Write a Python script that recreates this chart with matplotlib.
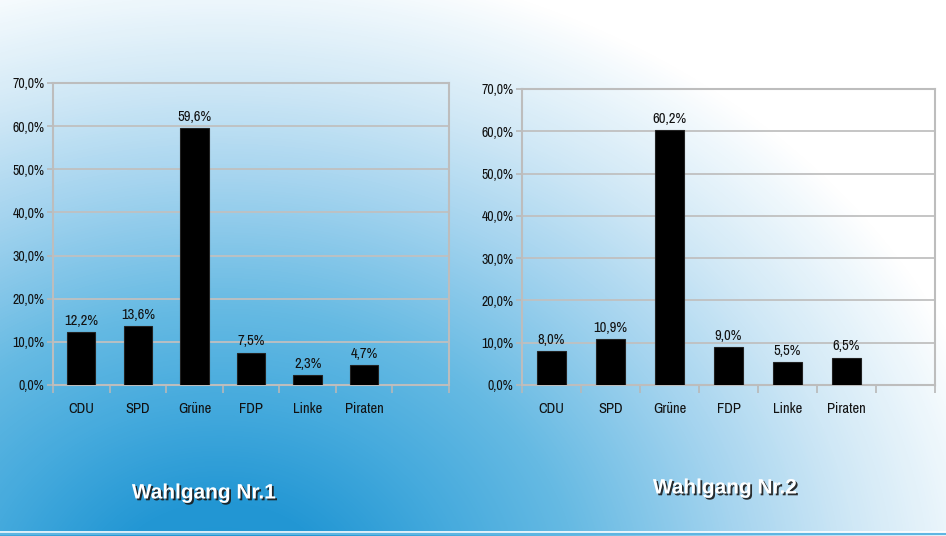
import numpy as np
import matplotlib
matplotlib.use('Agg')
import matplotlib.pyplot as plt
import matplotlib.patheffects as pe
from matplotlib import font_manager as fm
from matplotlib.colors import LinearSegmentedColormap

# Wahlergebnisse
parteien = ['CDU', 'SPD', 'Grüne', 'FDP', 'Linke', 'Piraten']
wahlgang1 = [12.2, 13.6, 59.6, 7.5, 2.3, 4.7]
wahlgang2 = [8.0, 10.9, 60.2, 9.0, 5.5, 6.5]
y_ticks = [0, 10, 20, 30, 40, 50, 60, 70]
titel = ['Wahlgang Nr.1', 'Wahlgang Nr.2']

W, H = 946, 536

# narrow font like Arial Narrow, whatever is installed
installed = {f.name for f in fm.fontManager.ttflist}
narrow = [n for n in ['Liberation Sans Narrow', 'Archivo Narrow'] if n in installed] + ['DejaVu Sans']


def de_pct(v):
    return f'{v:.1f}'.replace('.', ',') + '%'


fig = plt.figure(figsize=(W / 100, H / 100), dpi=100)

# background: elliptical blue gradient from bottom left
bg = fig.add_axes([0, 0, 1, 1], zorder=-5)
xx, yy = np.meshgrid(np.arange(W), np.arange(H))
t = np.sqrt(((xx - 220) / 800.0) ** 2 + ((yy - 600) / 650.0) ** 2)
cmap = LinearSegmentedColormap.from_list('bg', [
    (0.0, '#1f95d3'), (0.15, '#2397d4'), (0.3, '#45aadd'), (0.45, '#66bae3'),
    (0.65, '#a5d4ef'), (0.8, '#d0e8f6'), (0.93, '#eef7fc'), (1.0, '#ffffff')])
bg.imshow(np.clip(t, 0, 1), cmap=cmap, vmin=0, vmax=1,
          extent=(0, W, H, 0), aspect='auto', interpolation='bilinear')
bg.axhline(532, color='white', lw=1.2)
bg.axhline(534, color='#5fb6e2', lw=1.5)
bg.set_xlim(0, W)
bg.set_ylim(H, 0)
bg.axis('off')

# plot area rectangles in pixels: left, right, top, bottom
boxes = [(53, 449, 83, 385), (522, 935, 89, 385)]
title_pos = [(204, 493), (725, 488)]

for (l, r, top, bot), werte, name, (tx, ty) in zip(boxes, [wahlgang1, wahlgang2], titel, title_pos):
    ax = fig.add_axes([l / W, 1 - bot / H, (r - l) / W, (bot - top) / H])
    ax.set_facecolor('none')
    x = np.arange(len(parteien))
    ax.bar(x, werte, width=0.5, color='black', edgecolor='#222222', linewidth=0.8, zorder=3)
    for xi, v in zip(x, werte):
        ax.annotate(de_pct(v), (xi, v), xytext=(0, 3), textcoords='offset points',
                    ha='center', va='bottom', fontsize=10.5, family=narrow, color='#111111')
    ax.set_xlim(-0.5, 6.5)
    ax.set_ylim(0, 70)
    ax.set_yticks(y_ticks)
    ax.set_yticklabels([de_pct(v) for v in y_ticks], family=narrow, fontsize=10, color='#111111')
    ax.set_xticks(x)
    ax.set_xticklabels(parteien, family=narrow, fontsize=10.5, color='#111111')
    ax.set_xticks(np.arange(-0.5, 7, 1), minor=True)
    ax.tick_params(axis='x', which='major', length=0, pad=12)
    ax.tick_params(axis='x', which='minor', length=6, color='#b8b8b8', width=1.2)
    ax.tick_params(axis='y', length=4, color='#b8b8b8', width=1.2, pad=2)
    ax.grid(axis='y', color='#c0c0c0', lw=1.3, zorder=0)
    for s in ax.spines.values():
        s.set_color('#bdbdbd')
        s.set_linewidth(1.5)
    fig.text(tx / W, 1 - ty / H, name, ha='center', va='center', fontsize=15,
             fontweight='bold', family=['Liberation Sans', 'DejaVu Sans'], color='white',
             path_effects=[pe.withSimplePatchShadow(offset=(1.3, -1.3), shadow_rgbFace='#1a1a1a', alpha=0.9)])

fig.savefig('out.png', dpi=100)
